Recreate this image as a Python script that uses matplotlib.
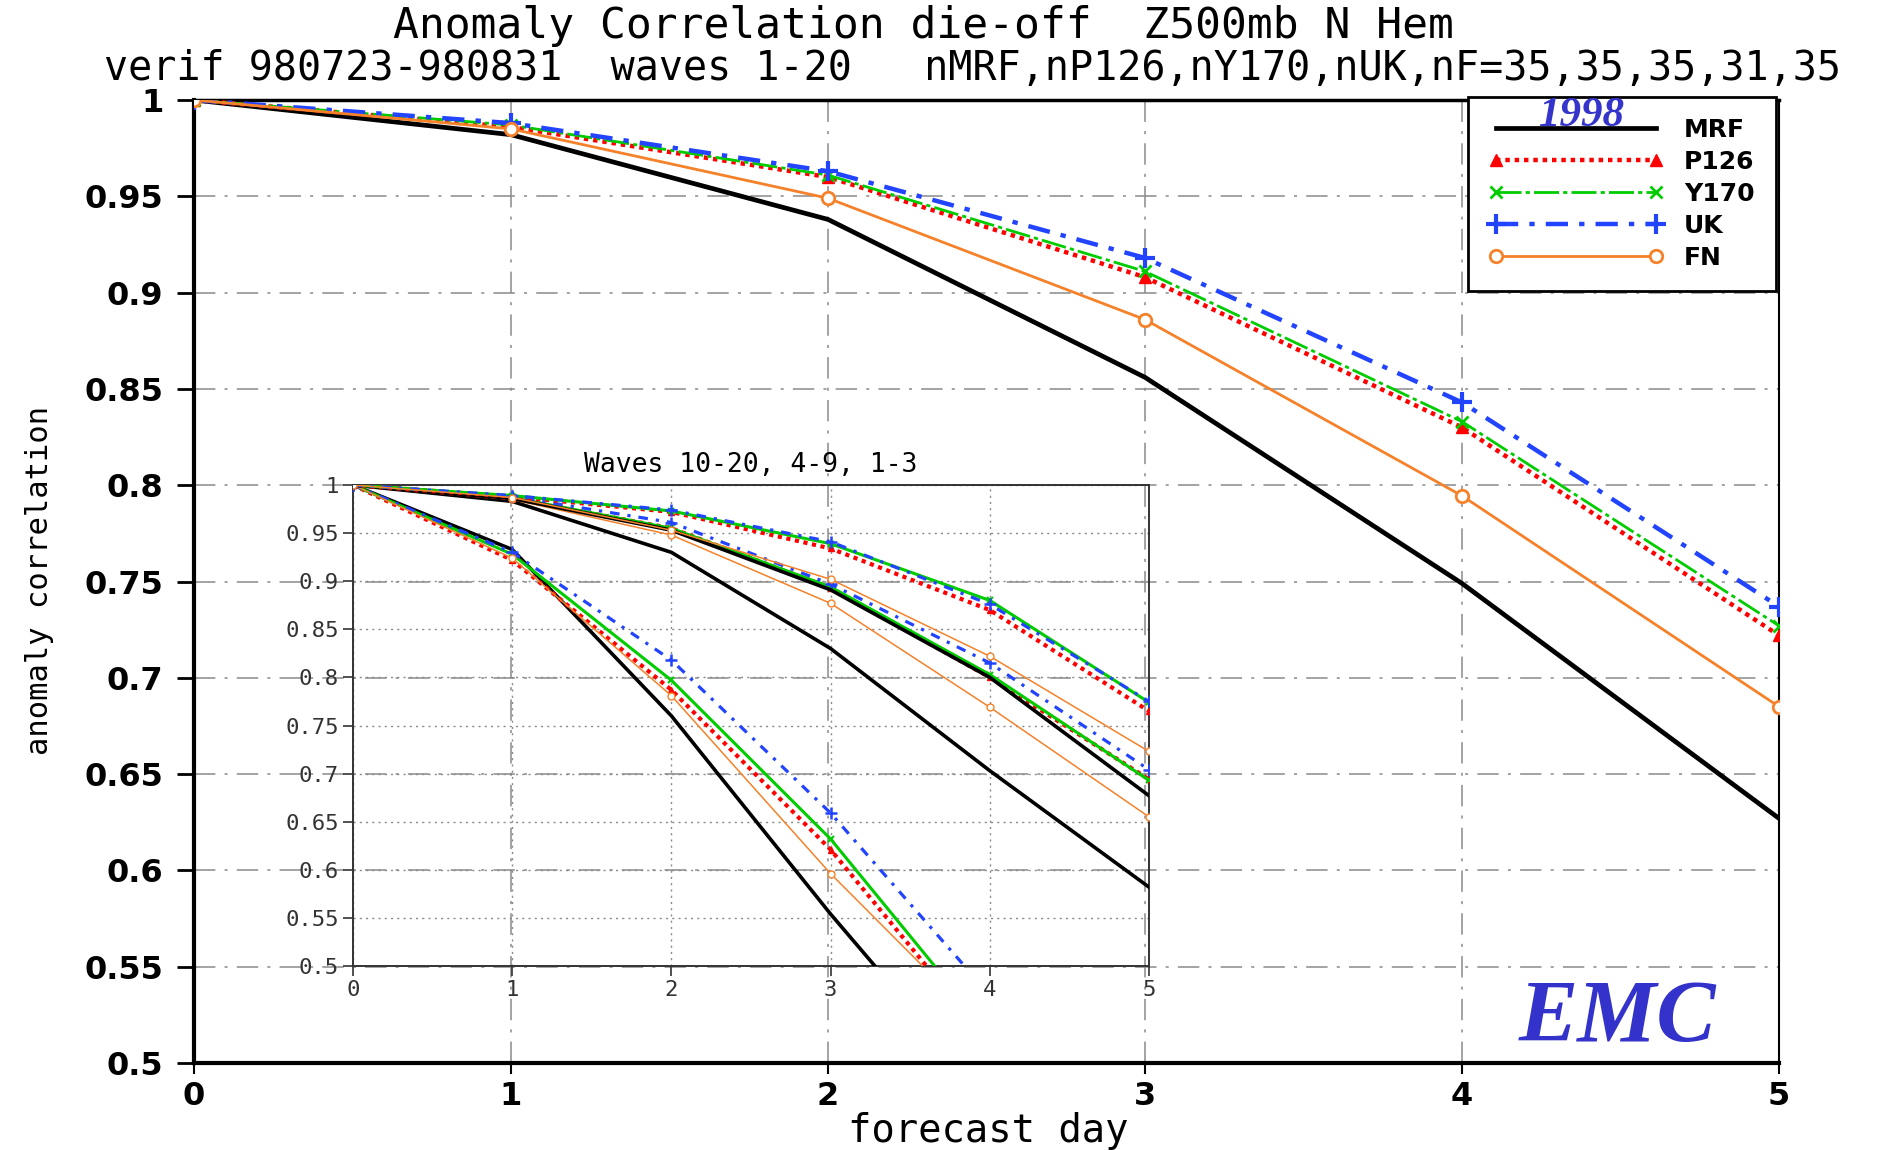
import matplotlib
matplotlib.use('Agg')
import matplotlib.pyplot as plt
from matplotlib.lines import Line2D

# ---------------- data ----------------
days = [0, 1, 2, 3, 4, 5]
models = ['MRF', 'P126', 'Y170', 'UK', 'FN']

# main panel: waves 1-20
mrf  = [1.0, 0.982, 0.938, 0.856, 0.749, 0.627]
p126 = [1.0, 0.986, 0.960, 0.908, 0.830, 0.722]
y170 = [1.0, 0.987, 0.961, 0.911, 0.833, 0.727]
uk   = [1.0, 0.988, 0.963, 0.918, 0.843, 0.737]
fn   = [1.0, 0.985, 0.949, 0.886, 0.7945, 0.685]

# inset: waves 1-3
w13_mrf  = [1.0, 0.986, 0.953, 0.891, 0.800, 0.677]
w13_p126 = [1.0, 0.988, 0.972, 0.934, 0.870, 0.765]
w13_y170 = [1.0, 0.989, 0.973, 0.939, 0.880, 0.774]
w13_uk   = [1.0, 0.989, 0.974, 0.941, 0.876, 0.775]
w13_fn   = [1.0, 0.987, 0.953, 0.902, 0.822, 0.723]

# inset: waves 4-9
w49_mrf  = [1.0, 0.983, 0.930, 0.830, 0.703, 0.582]
w49_p126 = [1.0, 0.986, 0.955, 0.893, 0.800, 0.694]
w49_y170 = [1.0, 0.987, 0.955, 0.894, 0.803, 0.693]
w49_uk   = [1.0, 0.988, 0.961, 0.897, 0.815, 0.704]
w49_fn   = [1.0, 0.985, 0.948, 0.877, 0.769, 0.655]

# inset: waves 10-20
w1020_mrf  = [1.0, 0.933, 0.760, 0.554, 0.36, 0.20]
w1020_p126 = [1.0, 0.922, 0.787, 0.621, 0.42, 0.25]
w1020_y170 = [1.0, 0.928, 0.797, 0.632, 0.43, 0.26]
w1020_uk   = [1.0, 0.930, 0.818, 0.659, 0.47, 0.30]
w1020_fn   = [1.0, 0.924, 0.781, 0.596, 0.43, 0.26]

y_ticks = [0.5, 0.55, 0.6, 0.65, 0.7, 0.75, 0.8, 0.85, 0.9, 0.95, 1.0]
y_tick_labels = ['0.5', '0.55', '0.6', '0.65', '0.7', '0.75', '0.8', '0.85', '0.9', '0.95', '1']
x_ticks = [0, 1, 2, 3, 4, 5]
x_tick_labels = ['0', '1', '2', '3', '4', '5']

title = 'Anomaly Correlation die-off  Z500mb N Hem'
subtitle = 'verif 980723-980831  waves 1-20   nMRF,nP126,nY170,nUK,nF=35,35,35,31,35'
inset_title = 'Waves 10-20, 4-9, 1-3'

# ---------------- styles ----------------
main_style = {
    'MRF':  dict(color='black', lw=3.4, ls='-', marker=None),
    'P126': dict(color='#ff0000', lw=3.2, ls=(0, (1, 1.1)), marker='^', ms=9, mfc='#ff0000', mec='#ff0000', dash_capstyle='butt'),
    'Y170': dict(color='#00cc00', lw=2.0, ls=(0, (9, 1.5, 1.5, 1.5)), marker='x', ms=8, mew=2),
    'UK':   dict(color='#2244ff', lw=3.2, ls=(0, (5, 2.5, 1.2, 2.5)), marker='+', ms=15, mew=3),
    'FN':   dict(color='#f5822a', lw=2.0, ls='-', marker='o', ms=9, mfc='white', mew=2),
}
inset_style = {
    'MRF':  dict(color='black', lw=2.6, ls='-', marker=None),
    'P126': dict(color='#ff0000', lw=3.0, ls=(0, (1, 1.1)), marker='^', ms=5, mfc='#ff0000', mec='#ff0000', dash_capstyle='butt'),
    'Y170': dict(color='#00cc00', lw=2.2, ls='-', marker='x', ms=5, mew=1.5),
    'UK':   dict(color='#2244ff', lw=2.3, ls=(0, (3, 2.5, 1, 2.5)), marker='+', ms=8, mew=1.8),
    'FN':   dict(color='#f5822a', lw=1.1, ls='-', marker='o', ms=5, mfc='white', mew=1),
}

W, H = 1892, 1150
fig = plt.figure(figsize=(W / 100, H / 100), dpi=100)


def box(l, t, r, b):
    return [l / W, 1 - b / H, (r - l) / W, (b - t) / H]


ax = fig.add_axes(box(194, 100, 1779, 1063))
ins = fig.add_axes(box(353, 485, 1149, 966))

mono = 'DejaVu Sans Mono'

# ---------------- main panel ----------------
main_series = dict(zip(models, [mrf, p126, y170, uk, fn]))
for m in models:
    ax.plot(days, main_series[m], zorder=3, **main_style[m])

ax.set_xlim(0, 5)
ax.set_ylim(0.5, 1.0)
ax.set_xticks(x_ticks)
ax.set_xticklabels(x_tick_labels, fontsize=23, fontweight='bold')
ax.set_yticks(y_ticks)
ax.set_yticklabels(y_tick_labels, fontsize=23, fontweight='bold')
ax.tick_params(axis='y', direction='out', length=12, width=2, pad=10)
ax.tick_params(axis='x', direction='out', length=8, width=1.5, pad=5)
ax.set_axisbelow(True)
ax.grid(True, color='#8a8a8a', lw=1.1, ls=(0, (14, 6, 2, 6)))
for s, w in [('left', 3), ('bottom', 3), ('top', 2.5), ('right', 1.5)]:
    ax.spines[s].set_linewidth(w)
    ax.spines[s].set_color('black')

# legend
handles = [Line2D([], [], **main_style[m]) for m in models]
leg = ax.legend(handles, models, loc='upper right', bbox_to_anchor=(0.998, 1.0034),
                borderaxespad=0, numpoints=2, handlelength=7.0, handletextpad=0.8,
                labelspacing=0.32, borderpad=0.85, fancybox=False, framealpha=1,
                edgecolor='black', prop=dict(weight='bold', size=18))
leg.get_frame().set_linewidth(2)
leg.set_zorder(5)
ax.text(0.8757, 0.973, '1998', transform=ax.transAxes, ha='center', va='baseline',
        fontfamily='Liberation Serif', style='italic', fontweight='bold', fontsize=31,
        color='#3535cc', zorder=6)

ax.text(0.898, 0.0447, 'EMC', transform=ax.transAxes, ha='center', va='center',
        fontfamily='Liberation Serif', style='italic', fontweight='bold', fontsize=64,
        color='#3333cc', zorder=6)

# ---------------- inset ----------------
ins.set_facecolor('none')
groups = [
    [w1020_mrf, w1020_p126, w1020_y170, w1020_uk, w1020_fn],
    [w49_mrf, w49_p126, w49_y170, w49_uk, w49_fn],
    [w13_mrf, w13_p126, w13_y170, w13_uk, w13_fn],
]
for grp in groups:
    for m, vals in zip(models, grp):
        ins.plot(days, vals, zorder=3, **inset_style[m])
ins.set_xlim(0, 5)
ins.set_ylim(0.5, 1.0)
ins.set_xticks(x_ticks)
ins.set_xticklabels(x_tick_labels, fontsize=16, fontfamily=mono, color='#222222')
ins.set_yticks(y_ticks)
ins.set_yticklabels(y_tick_labels, fontsize=16, fontfamily=mono, color='#222222')
ins.tick_params(direction='out', length=7, width=1.2, pad=3, colors='#333333')
ins.set_axisbelow(True)
ins.grid(True, color='#8a8a8a', lw=1.0, ls=(0, (1.5, 3)))
for s in ins.spines.values():
    s.set_linewidth(1.4)
    s.set_color('#333333')
    s.set_linestyle((0, (4, 1)))
ins.text(0.5, 1.042, inset_title, transform=ins.transAxes, ha='center', va='center',
         fontsize=19, fontfamily=mono)

# ---------------- figure texts ----------------
fig.text(923 / W, 1 - 26 / H, title, ha='center', va='center', fontsize=31, fontfamily=mono)
fig.text(104 / W, 1 - 69 / H, subtitle, ha='left', va='center', fontsize=28.8, fontfamily=mono)
fig.text(40 / W, 1 - 580 / H, 'anomaly correlation', ha='center', va='center',
         rotation=90, fontsize=22, fontfamily=mono)
fig.text(988 / W, 1 - 1131 / H, 'forecast day', ha='center', va='center', fontsize=28,
         fontfamily=mono)

fig.savefig('out.png', dpi=100)
